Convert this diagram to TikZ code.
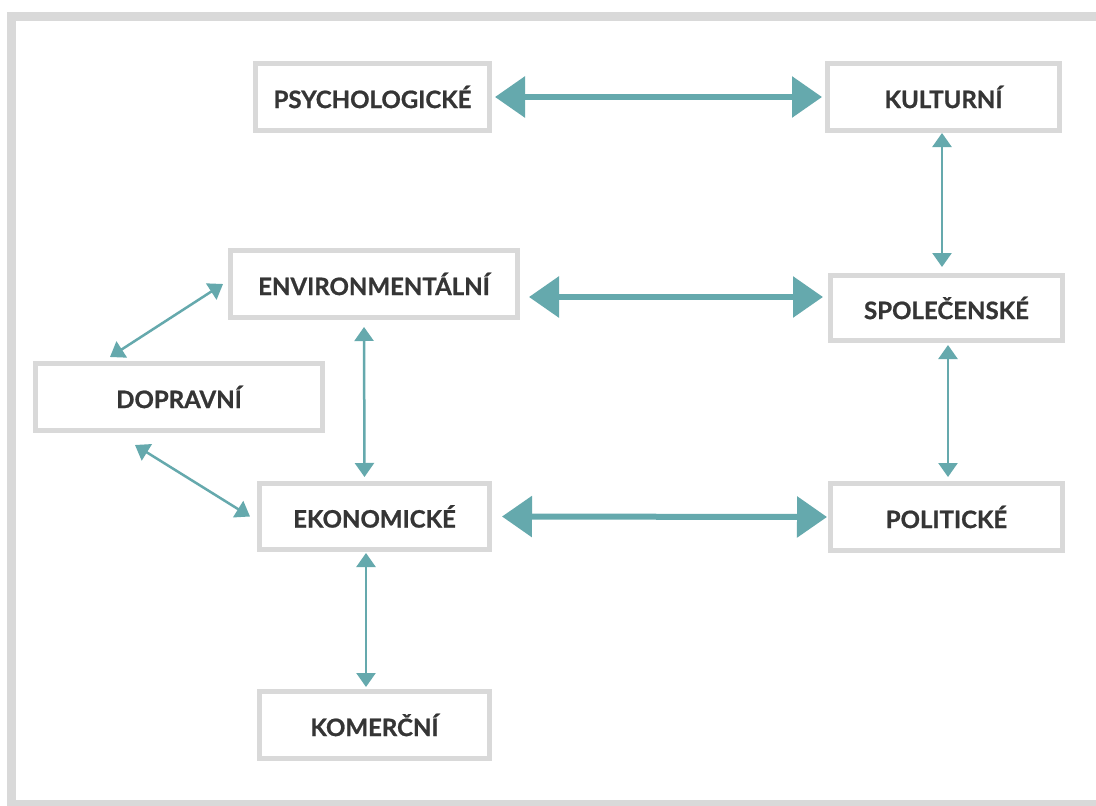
\documentclass[tikz,border=0pt]{standalone}
\usepackage{fontspec}
\setmainfont{Lato}
\newfontfamily\boxfont{Lato}[BoldFeatures={FakeBold=0.9}]
\usetikzlibrary{arrows.meta,calc}
\definecolor{boxgray}{HTML}{D9D9D9}
\definecolor{teal1}{HTML}{65A9AD}
\definecolor{txt}{HTML}{353535}
\tikzset{
  box/.style={draw=boxgray, line width=5pt, outer sep=2.5pt, fill=white,
    inner sep=0pt, text=txt, font=\boxfont\fontsize{24}{28}\selectfont\bfseries},
  thick arrow/.style={teal1, line width=6pt,
    {Triangle[length=30pt,width=40pt]}-{Triangle[length=30pt,width=40pt]}},
  thin arrow/.style={teal1, line width=2.5pt,
    {Triangle[length=14pt,width=19pt]}-{Triangle[length=14pt,width=19pt]}}
}
\begin{document}
\begin{tikzpicture}[x=1pt,y=-1pt]
\useasboundingbox (0,0) rectangle (1096,806);
\fill[white] (0,0) rectangle (1096,806);
\begin{scope}
\clip (0,0) rectangle (1096,806);
\draw[boxgray, line width=9pt] (11.5,16) rectangle (1120,804);
\end{scope}

\node[box, minimum width=234pt, minimum height=67pt] (psy) at (372.5,97) {PSYCHOLOGICKÉ};
\node[box, minimum width=232pt, minimum height=67pt] (kul) at (943.5,97) {KULTURNÍ};
\node[box, minimum width=287pt, minimum height=67pt] (env) at (374,284) {ENVIRONMENTÁLNÍ};
\node[box, minimum width=232pt, minimum height=65pt] (spol) at (946.5,308) {SPOLEČENSKÉ};
\node[box, minimum width=287pt, minimum height=67pt] (dop) at (179,397) {DOPRAVNÍ};
\node[box, minimum width=230pt, minimum height=66pt] (ekon) at (374.5,516.5) {EKONOMICKÉ};
\node[box, minimum width=232pt, minimum height=67pt] (pol) at (946.5,517) {POLITICKÉ};
\node[box, minimum width=230pt, minimum height=67pt] (kom) at (374.5,725) {KOMERČNÍ};

% thick horizontal arrows
\draw[thick arrow, shorten <=3pt, shorten >=3pt] (psy.east) -- (kul.west);
\draw[thick arrow, shorten <=9pt, shorten >=5pt] ([yshift=-13pt]env.east) -- ([yshift=11pt]spol.west);
\draw[thick arrow, shorten <=10pt, shorten >=1pt] (ekon.east) -- (pol.west);

% thin arrows
\draw[thin arrow, shorten >=6pt] ([xshift=-1.5pt]kul.south) -- ([xshift=-4.5pt]spol.north);
\draw[thin arrow, shorten <=2pt, shorten >=4pt] ([xshift=1.5pt]spol.south) -- ([xshift=1.5pt]pol.north);
\draw[thin arrow, shorten <=7pt, shorten >=4pt] ([xshift=-10pt]env.south) -- ([xshift=-10pt]ekon.north);
\draw[thin arrow, shorten <=1pt, shorten >=2pt] ([xshift=-8.5pt]ekon.south) -- ([xshift=-8.5pt]kom.north);
\draw[thin arrow] ([xshift=-69pt,yshift=4pt]dop.north) -- ([xshift=-5pt]env.west);
\draw[thin arrow] ([xshift=-44pt,yshift=-12pt]dop.south) -- ([xshift=-7pt]ekon.west);
\end{tikzpicture}
\end{document}
